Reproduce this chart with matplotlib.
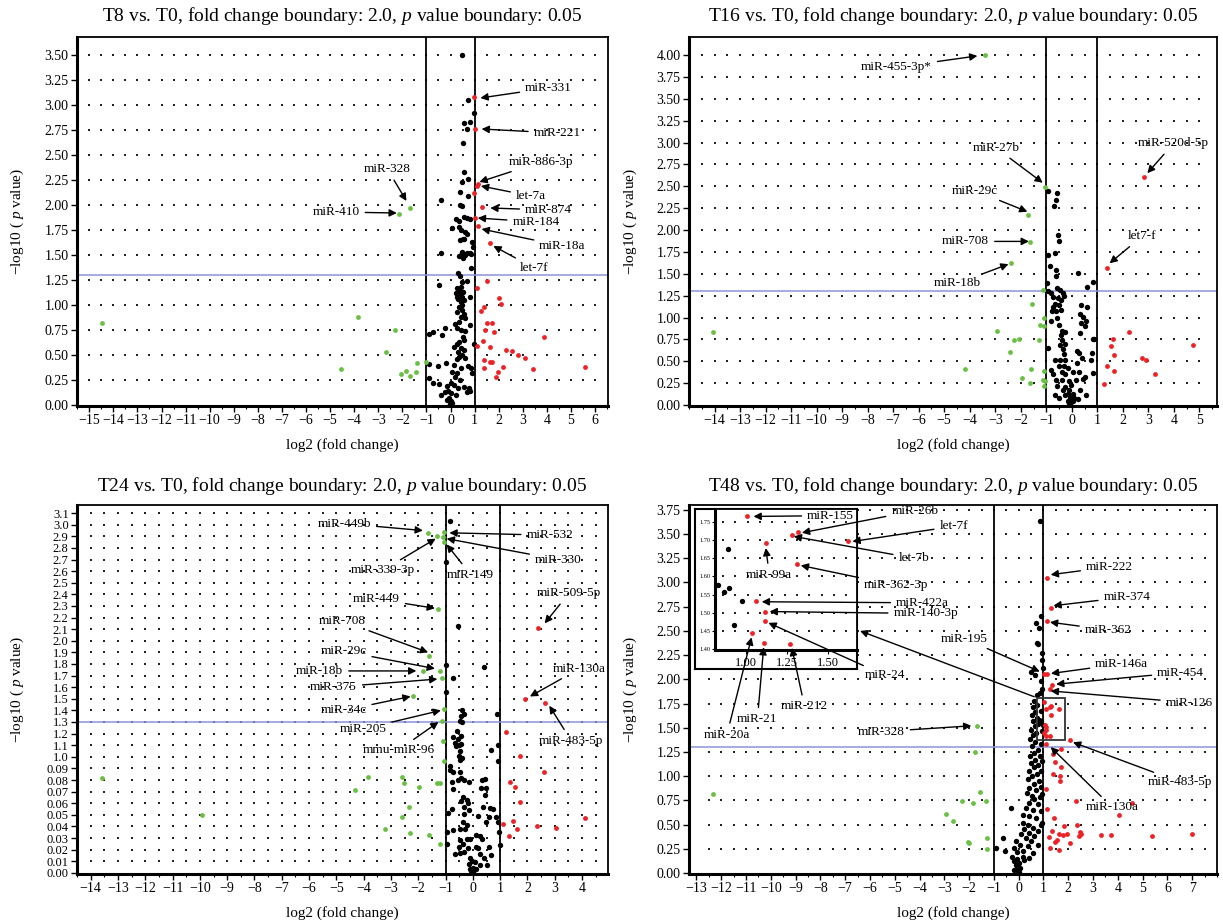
"""Four volcano plots of miRNA fold change against p value (T8, T16, T24, T48 vs. T0)."""

import numpy as np
import matplotlib

matplotlib.use("Agg")

import matplotlib.pyplot as plt
from matplotlib.patches import Rectangle
from matplotlib.ticker import MultipleLocator

plt.rcParams["font.family"] = ["Liberation Serif", "DejaVu Serif"]
plt.rcParams["mathtext.fontset"] = "custom"
plt.rcParams["mathtext.rm"] = "Liberation Serif"
plt.rcParams["mathtext.it"] = "Liberation Serif:italic"

W, H = 1223, 923
RED = "#ec2227"
GREEN = "#6abf45"
BLUE = "#8c93d6"

# ---- T8 vs. T0 --------------------------------------------------------------
t8_black = [
    (0.48, 3.50), (0.71, 3.05), (0.97, 2.92), (0.58, 2.82), (0.79, 2.83), (0.68, 2.76),
    (0.50, 2.62), (0.58, 2.33), (0.73, 2.26), (0.48, 2.23), (0.39, 2.13), (0.73, 2.09),
    (-0.40, 2.05), (0.40, 2.00), (0.48, 1.99), (0.57, 1.88), (0.68, 1.87), (0.24, 1.86),
    (0.36, 1.84), (0.79, 1.86), (0.08, 1.77), (0.37, 1.78), (0.44, 1.75), (0.60, 1.73),
    (0.68, 1.71), (0.52, 1.66), (0.39, 1.65), (0.57, 1.66), (0.90, 1.63), (0.95, 1.58),
    (-0.40, 1.52), (0.47, 1.53), (0.55, 1.50), (0.42, 1.50), (0.61, 1.50), (0.68, 1.52),
    (0.79, 1.52), (0.87, 1.51), (0.37, 1.49), (0.52, 1.47), (0.87, 1.37), (0.33, 1.32),
    (0.38, 1.29), (0.69, 1.24), (0.46, 1.23), (-0.48, 1.20), (0.42, 1.18), (0.28, 1.17),
    (0.36, 1.15), (0.50, 1.13), (0.21, 1.12), (0.39, 1.11), (0.25, 1.08), (0.49, 1.08),
    (0.32, 1.06), (0.58, 1.05), (0.42, 1.03), (0.80, 1.08), (0.46, 1.00), (0.35, 0.98),
    (0.49, 0.95), (0.28, 0.93), (0.55, 0.91), (0.42, 0.88), (0.61, 0.87), (0.36, 0.83),
    (0.20, 0.81), (0.25, 0.77), (0.83, 0.80), (-0.22, 0.77), (0.42, 0.75), (0.62, 0.74),
    (-0.73, 0.73), (-0.89, 0.71), (-0.35, 0.70), (0.50, 0.68), (0.55, 0.65), (0.35, 0.63),
    (0.25, 0.61), (0.14, 0.58), (0.97, 0.61), (0.42, 0.57), (0.58, 0.55), (0.31, 0.53),
    (0.49, 0.50), (0.35, 0.48), (0.25, 0.46), (0.62, 0.47), (-0.89, 0.41), (-0.18, 0.42),
    (-0.52, 0.39), (0.14, 0.40), (0.73, 0.39), (0.42, 0.37), (0.84, 0.37), (0.07, 0.33),
    (0.28, 0.32), (0.18, 0.28), (0.39, 0.25), (0.90, 0.32), (-0.89, 0.27), (-0.71, 0.22),
    (-0.46, 0.21), (-0.15, 0.19), (0.00, 0.22), (0.14, 0.20), (0.31, 0.17), (0.55, 0.18),
    (0.76, 0.17), (-0.09, 0.14), (0.03, 0.12), (0.21, 0.10), (-0.40, 0.10), (-0.24, 0.13),
    (0.69, 0.13), (0.83, 0.14), (-0.06, 0.07), (0.00, 0.04), (0.07, 0.02), (-0.04, 0.01),
    (-0.13, 0.05),
]
t8_up = [
    (0.99, 3.08), (1.03, 2.76), (1.13, 2.21), (1.10, 2.19), (0.99, 2.12), (1.32, 1.98),
    (1.00, 1.87), (1.15, 1.79), (1.66, 1.62), (1.53, 1.24), (1.11, 1.17), (2.03, 1.07),
    (2.10, 1.01), (1.40, 0.98), (1.26, 0.94), (1.53, 0.82), (1.71, 0.82), (1.42, 0.75),
    (1.81, 0.73), (3.90, 0.68), (1.12, 0.59), (1.37, 0.64), (1.64, 0.58), (2.32, 0.55),
    (2.57, 0.54), (2.81, 0.50), (3.08, 0.47), (1.38, 0.45), (1.38, 0.37), (1.64, 0.43),
    (1.74, 0.43), (2.20, 0.38), (1.97, 0.33), (1.89, 0.28), (3.44, 0.36), (5.57, 0.38),
]
t8_down = [
    (-14.47, 0.82), (-3.86, 0.88), (-2.31, 0.75), (-2.69, 0.53), (-4.53, 0.36),
    (-1.40, 0.42), (-1.86, 0.34), (-2.06, 0.31), (-1.68, 0.29), (-1.43, 0.33),
    (-1.02, 0.43), (-1.70, 1.97), (-2.12, 1.91),
]
# (name, arrow tip, label centre)
t8_labels = [
    ("miR-331", (1.24, 3.07), (4.07, 3.17)),
    ("miR-221", (1.29, 2.76), (4.43, 2.72)),
    ("miR-886-3p", (1.20, 2.23), (3.75, 2.43)),
    ("let-7a", (1.26, 2.19), (3.34, 2.09)),
    ("miR-874", (1.65, 1.97), (4.07, 1.95)),
    ("miR-184", (1.13, 1.87), (3.55, 1.83)),
    ("miR-18a", (1.29, 1.76), (4.65, 1.59)),
    ("let-7f", (1.78, 1.59), (3.47, 1.37)),
    ("miR-328", (-1.83, 2.04), (-2.62, 2.36)),
    ("miR-410", (-2.23, 1.92), (-4.75, 1.93)),
]

# ---- T16 vs. T0 -------------------------------------------------------------
t16_black = [
    (-0.92, 2.45), (-0.58, 2.42), (-0.61, 2.34), (-0.69, 2.27), (-0.54, 1.94), (-0.52, 1.88),
    (-0.66, 1.74), (-0.93, 1.71), (-0.86, 1.59), (-0.63, 1.54), (-0.63, 1.48), (-0.99, 1.40),
    (0.25, 1.51), (0.82, 1.41), (0.59, 1.35), (-0.92, 1.30), (-0.82, 1.28), (-0.58, 1.34),
    (-0.46, 1.32), (-0.35, 1.28), (-0.31, 1.25), (-0.75, 1.23), (-0.54, 1.22), (-0.43, 1.20),
    (-0.66, 1.15), (-0.50, 1.14), (-0.78, 1.07), (-0.62, 1.08), (-0.43, 1.09), (-0.73, 1.12),
    (0.37, 1.14), (0.60, 1.12), (0.33, 1.04), (0.45, 1.01), (0.37, 0.94), (0.57, 0.96),
    (0.53, 0.90), (-0.58, 1.00), (-0.80, 0.96), (-0.50, 0.91), (-0.40, 0.85), (-0.28, 0.83),
    (-0.44, 0.80), (0.33, 0.82), (0.82, 0.76), (0.88, 0.75), (-0.40, 0.74), (-0.28, 0.70),
    (-0.45, 0.69), (-0.92, 0.65), (-0.36, 0.64), (0.20, 0.62), (0.27, 0.59), (0.79, 0.59),
    (-0.32, 0.58), (-0.66, 0.52), (-0.46, 0.51), (-0.26, 0.51), (0.40, 0.54), (0.76, 0.51),
    (0.20, 0.48), (-0.32, 0.45), (-0.49, 0.45), (-0.15, 0.42), (-0.83, 0.40), (-0.40, 0.38),
    (0.03, 0.38), (0.27, 0.38), (0.82, 0.37), (-0.75, 0.35), (-0.26, 0.35), (0.53, 0.32),
    (0.45, 0.30), (-0.62, 0.29), (-0.40, 0.29), (0.15, 0.29), (-0.11, 0.27), (-0.57, 0.22),
    (-0.02, 0.23), (0.32, 0.17), (0.57, 0.11), (-0.10, 0.17), (-0.16, 0.13), (0.03, 0.13),
    (-0.28, 0.11), (-0.65, 0.12), (-0.07, 0.08), (0.10, 0.08), (0.23, 0.07), (-0.15, 0.05),
    (-0.02, 0.03), (0.06, 0.05), (-0.10, 0.02), (-0.49, 0.08), (-0.33, 0.17), (-0.26, 0.21),
]
t16_up = [
    (2.82, 2.61), (1.39, 1.57), (2.25, 0.84), (4.73, 0.69), (1.61, 0.76), (1.55, 0.68),
    (1.67, 0.57), (2.76, 0.54), (2.92, 0.52), (1.39, 0.45), (1.64, 0.39), (3.26, 0.36),
    (1.27, 0.24),
]
t16_down = [
    (-3.40, 4.00), (-1.05, 2.49), (-1.70, 2.17), (-1.62, 1.86), (-2.39, 1.62), (-14.06, 0.83),
    (-4.18, 0.41), (-2.94, 0.85), (-2.25, 0.74), (-2.07, 0.75), (-1.27, 0.74), (-2.41, 0.61),
    (-1.55, 1.15), (-1.13, 1.31), (-1.07, 1.00), (-1.26, 0.91), (-1.07, 0.90), (-1.59, 0.41),
    (-1.08, 0.39), (-1.95, 0.31), (-1.63, 0.25), (-1.14, 0.29), (-1.05, 0.28), (-1.10, 0.22),
]
t16_labels = [
    ("miR-455-3p*", (-3.70, 3.99), (-6.87, 3.86)),
    ("miR-27b", (-1.14, 2.54), (-2.97, 2.94)),
    ("miR-29c", (-1.74, 2.21), (-3.79, 2.45)),
    ("miR-708", (-1.68, 1.87), (-4.16, 1.87)),
    ("miR-18b", (-2.48, 1.61), (-4.50, 1.39)),
    ("miR-520d-5p", (2.96, 2.65), (3.99, 2.99)),
    ("let7-f", (1.48, 1.62), (2.76, 1.93)),
]

# ---- T24 vs. T0 -------------------------------------------------------------
t24_black = [
    (-0.82, 3.03), (-0.99, 2.68), (-0.53, 2.13), (-0.97, 1.79), (0.42, 1.77), (-0.72, 1.68),
    (-0.99, 1.56), (-0.38, 1.40), (-0.34, 1.37), (-0.44, 1.35), (-0.48, 1.31), (-0.39, 1.30),
    (0.89, 1.37), (-0.57, 1.22), (-0.71, 1.17), (-0.54, 1.15), (-0.45, 1.18), (-0.65, 1.12),
    (-0.51, 1.10), (-0.42, 1.11), (-0.60, 1.09), (0.68, 1.06), (0.92, 1.10), (-0.48, 1.05),
    (-0.50, 1.01), (-0.40, 0.99), (-0.48, 0.97), (0.92, 0.96), (-0.82, 0.92), (-0.74, 0.87),
    (-0.84, 0.89), (-0.48, 0.87), (-0.42, 0.82), (-0.54, 0.80), (-0.32, 0.80), (-0.13, 0.78),
    (0.44, 0.81), (0.35, 0.80), (-0.78, 0.78), (-0.74, 0.72), (0.48, 0.73), (0.29, 0.73),
    (0.44, 0.67), (-0.35, 0.65), (-0.23, 0.63), (-0.17, 0.60), (-0.42, 0.62), (-0.78, 0.55),
    (-0.33, 0.57), (0.38, 0.57), (0.62, 0.56), (0.74, 0.55), (-0.90, 0.52), (-0.13, 0.54),
    (-0.32, 0.51), (0.20, 0.49), (0.59, 0.48), (0.84, 0.48), (0.48, 0.44), (0.93, 0.44),
    (-0.35, 0.44), (-0.21, 0.41), (-0.48, 0.38), (-0.29, 0.38), (-0.96, 0.35), (-0.74, 0.37),
    (0.13, 0.33), (0.26, 0.32), (0.94, 0.35), (-0.23, 0.29), (-0.09, 0.29), (-0.48, 0.28),
    (-0.35, 0.25), (0.32, 0.29), (-0.96, 0.25), (0.99, 0.24), (0.60, 0.22), (0.10, 0.22),
    (0.20, 0.21), (-0.50, 0.22), (-0.17, 0.21), (-0.66, 0.16), (-0.48, 0.17), (-0.33, 0.18),
    (0.26, 0.16), (0.66, 0.15), (-0.11, 0.13), (0.40, 0.13), (-0.04, 0.10), (0.07, 0.09),
    (-0.13, 0.08), (0.26, 0.07), (0.50, 0.07), (0.01, 0.04), (0.13, 0.03), (-0.09, 0.03),
    (-0.01, 0.01), (-0.05, 0.02),
]
t24_up = [
    (2.39, 2.11), (1.91, 1.50), (2.64, 1.46), (1.21, 1.21), (1.74, 1.01), (2.59, 0.87),
    (1.36, 0.78), (1.53, 0.74), (1.74, 0.61), (4.09, 0.47), (1.48, 0.45), (1.09, 0.42),
    (2.36, 0.40), (3.04, 0.39), (1.63, 0.38), (1.31, 0.32),
]
t24_down = [
    (-1.64, 2.93), (-1.30, 2.90), (-1.10, 2.89), (-1.06, 2.94), (-1.05, 2.85), (-1.27, 2.27),
    (-1.59, 1.87), (-1.22, 1.74), (-1.83, 1.74), (-1.13, 1.68), (-2.21, 1.52), (-1.05, 1.41),
    (-1.14, 1.31), (-1.10, 1.14), (-1.06, 0.96), (-13.58, 0.82), (-3.84, 0.83), (-2.61, 0.83),
    (-2.53, 0.77), (-4.31, 0.71), (-1.96, 0.74), (-1.33, 0.77), (-1.22, 0.77), (-9.91, 0.50),
    (-2.34, 0.57), (-2.59, 0.48), (-3.23, 0.38), (-2.30, 0.34), (-1.62, 0.33), (-1.22, 0.25),
]
t24_labels = [
    ("miR-449b", (-1.83, 2.95), (-4.71, 3.01)),
    ("miR-532", (-0.86, 2.93), (2.82, 2.91)),
    ("miR-330", (-0.96, 2.88), (3.13, 2.70)),
    ("miR-339-3p", (-1.36, 2.88), (-3.28, 2.61)),
    ("miR-149", (-0.96, 2.83), (-0.08, 2.57)),
    ("miR-509-5p", (2.63, 2.15), (3.52, 2.41)),
    ("miR-449", (-1.39, 2.28), (-3.53, 2.36)),
    ("miR-708", (-1.64, 1.90), (-4.78, 2.17)),
    ("miR-29c", (-1.39, 1.76), (-4.74, 1.91)),
    ("miR-18b", (-2.07, 1.74), (-5.61, 1.74)),
    ("miR-375", (-1.30, 1.67), (-5.10, 1.60)),
    ("miR-130a", (2.09, 1.52), (3.91, 1.76)),
    ("miR-34c", (-2.28, 1.52), (-4.74, 1.40)),
    ("miR-205", (-1.17, 1.40), (-4.02, 1.24)),
    ("miR-483-5p", (2.80, 1.44), (3.60, 1.14)),
    ("mmu-miR-96", (-1.26, 1.30), (-2.71, 1.06)),
]
t24_yticks = [i / 10 for i in range(32)]
t24_yticklabels = ["0.00"] + [f"0.0{i}" for i in range(1, 10)] + [f"{i / 10:.1f}" for i in range(10, 32)]

# ---- T48 vs. T0 -------------------------------------------------------------
t48_black = [
    (0.84, 3.63), (0.92, 2.65), (0.70, 2.58), (0.81, 2.53), (0.74, 2.38), (0.79, 2.36),
    (0.93, 2.27), (0.93, 2.20), (0.97, 2.12), (0.50, 2.08), (0.64, 2.04), (0.92, 1.98),
    (0.96, 1.90), (0.84, 1.86), (0.73, 1.84), (0.62, 1.78), (0.74, 1.74), (0.57, 1.71),
    (0.65, 1.66), (0.52, 1.63), (0.72, 1.60), (0.56, 1.57), (0.79, 1.54), (0.65, 1.52),
    (0.49, 1.48), (0.69, 1.45), (0.56, 1.43), (0.45, 1.38), (0.65, 1.35), (0.89, 1.33),
    (0.52, 1.31), (0.76, 1.27), (0.60, 1.24), (0.44, 1.21), (0.87, 1.21), (0.65, 1.17),
    (0.49, 1.14), (0.79, 1.12), (0.60, 1.09), (0.42, 1.05), (0.89, 1.05), (0.72, 1.02),
    (0.52, 1.00), (0.36, 0.97), (0.83, 0.95), (0.60, 0.92), (0.42, 0.88), (0.89, 0.89),
    (0.70, 0.86), (0.33, 0.83), (0.52, 0.80), (0.87, 0.78), (-0.32, 0.67), (0.62, 0.76),
    (0.40, 0.72), (0.76, 0.71), (0.29, 0.67), (0.56, 0.65), (0.89, 0.64), (0.19, 0.60),
    (0.42, 0.59), (0.69, 0.57), (0.16, 0.52), (0.36, 0.50), (0.56, 0.47), (0.89, 0.50),
    (0.22, 0.45), (0.42, 0.41), (0.79, 0.43), (-0.65, 0.36), (0.09, 0.40), (0.29, 0.36),
    (0.62, 0.38), (-0.11, 0.33), (0.49, 0.33), (-0.92, 0.26), (-0.56, 0.23), (0.05, 0.29),
    (0.36, 0.28), (0.76, 0.29), (-0.18, 0.26), (-0.05, 0.22), (0.19, 0.23), (0.56, 0.21),
    (-0.25, 0.17), (-0.07, 0.15), (0.16, 0.17), (0.42, 0.16), (-0.18, 0.12), (0.02, 0.10),
    (0.22, 0.13), (-0.11, 0.08), (0.06, 0.05), (-0.05, 0.03), (0.02, 0.01), (-0.18, 0.03),
    (0.89, 1.676), (0.826, 1.575), (0.864, 1.557), (0.895, 1.567), (0.976, 1.531),
    (0.929, 1.465), (0.95, 0.52), (0.93, 0.82), (0.95, 1.16),
]
t48_up = [
    (1.14, 3.05), (1.29, 2.74), (1.14, 2.60), (1.01, 2.05), (1.14, 2.05), (1.35, 1.94),
    (1.28, 1.90), (2.05, 1.37), (1.10, 1.33), (1.72, 1.28), (1.37, 1.23), (1.47, 1.15),
    (1.69, 1.09), (1.40, 1.02), (1.68, 1.00), (1.67, 0.95), (1.09, 0.87), (2.32, 0.74),
    (4.59, 0.72), (1.15, 0.66), (4.03, 0.60), (1.41, 0.57), (1.84, 0.49), (2.35, 0.50),
    (1.35, 0.43), (1.61, 0.40), (1.80, 0.39), (1.93, 0.40), (2.49, 0.42), (2.53, 0.40),
    (2.43, 0.38), (3.31, 0.39), (3.71, 0.39), (5.39, 0.38), (7.00, 0.40), (1.21, 0.37),
    (1.53, 0.34), (1.48, 0.32), (2.07, 0.31), (1.25, 0.26), (1.64, 0.24),
    (1.005, 1.765), (1.317, 1.721), (1.281, 1.714), (1.624, 1.696), (1.119, 1.692),
    (1.310, 1.635), (1.060, 1.531), (1.114, 1.503), (1.114, 1.477), (1.038, 1.443),
    (1.112, 1.417), (1.267, 1.413),
]
t48_down = [
    (-1.70, 1.52), (-1.77, 1.25), (-12.32, 0.82), (-1.58, 0.84), (-2.29, 0.74), (-1.86, 0.72),
    (-1.31, 0.74), (-2.92, 0.61), (-2.67, 0.54), (-2.05, 0.32), (-1.99, 0.31), (-1.29, 0.36),
    (-1.26, 0.25),
]
t48_labels = [
    ("miR-222", (1.29, 3.08), (3.66, 3.16)),
    ("miR-374", (1.40, 2.76), (4.37, 2.85)),
    ("miR-362", (1.26, 2.59), (3.61, 2.51)),
    ("miR-195", (0.85, 2.08), (-2.18, 2.42)),
    ("miR-146a", (1.30, 2.06), (4.16, 2.16)),
    ("miR-454", (1.51, 1.95), (6.53, 2.07)),
    ("miR-126", (1.29, 1.88), (6.88, 1.76)),
    ("miR-483-5p", (2.19, 1.35), (6.50, 0.94)),
    ("miR-130a", (1.29, 1.30), (3.77, 0.68)),
    ("miR-328", (-1.91, 1.52), (-5.54, 1.46)),
]
# inset labels: arrow tip in inset data, label centre in main-panel data
t48_inset_labels = [
    ("miR-155", (1.045, 1.765), (-7.59, 3.69)),
    ("miR-26b", (1.34, 1.72), (-4.19, 3.74)),
    ("let-7f", (1.648, 1.696), (-2.62, 3.58)),
    ("let-7b", (1.29, 1.71), (-4.23, 3.25)),
    ("miR-99a", (1.12, 1.678), (-10.06, 3.08)),
    ("miR-362-3p", (1.333, 1.630), (-4.94, 2.97)),
    ("miR-422a", (1.095, 1.530), (-3.88, 2.79)),
    ("miR-140-3p", (1.143, 1.503), (-3.75, 2.68)),
    ("miR-24", (1.136, 1.472), (-5.38, 2.04)),
    ("miR-20a", (1.033, 1.432), (-11.77, 1.43)),
    ("miR-21", (1.107, 1.405), (-10.54, 1.59)),
    ("miR-212", (1.279, 1.403), (-8.64, 1.72)),
]
zoom_box = (0.73, 1.375, 1.85, 1.81)  # x0, y0, x1, y1 of the zoomed region


def rect(left, top, right, bottom):
    return [left / W, 1 - bottom / H, (right - left) / W, (bottom - top) / H]


def dot_grid(ax, xs, ys):
    gx, gy = np.meshgrid(xs, ys)
    ax.scatter(gx.ravel(), gy.ravel(), s=0.7, c="#222222", marker="s", linewidths=0, zorder=0.5)


def setup(ax, xlim, ylim, xticks, yticks, yticklabels, title, title_y, ylabelsize=10):
    ax.set_xlim(xlim)
    ax.set_ylim(ylim)
    ax.set_xticks(xticks)
    ax.set_yticks(yticks, yticklabels)
    ax.xaxis.set_minor_locator(MultipleLocator(0.5))
    ax.tick_params(which="major", direction="out", length=4, width=1, labelsize=10, pad=2)
    ax.tick_params(axis="y", labelsize=ylabelsize)
    ax.tick_params(which="minor", direction="out", length=2, width=0.8)
    for spine in ax.spines.values():
        spine.set_linewidth(1.3)
    ax.spines["left"].set_linewidth(2.2)
    ax.spines["bottom"].set_linewidth(2.2)

    xs = np.arange(np.ceil(xlim[0] * 2) / 2 + 0.5, xlim[1] - 0.2, 0.5)
    dot_grid(ax, xs, [v for v in yticks if v > 0.001])
    ax.axvline(-1, color="k", lw=1.3, zorder=1)
    ax.axvline(1, color="k", lw=1.3, zorder=1)
    ax.axhline(-np.log10(0.05), color=BLUE, lw=1.1, zorder=1)

    ax.set_xlabel("log2 (fold change)", fontsize=11)
    ax.set_ylabel("−log10 ( $\\mathit{p}$ value)", fontsize=11)
    ax.xaxis.set_label_coords(0.5, -0.105)
    ax.xaxis.label.set_va("center")
    ax.yaxis.set_label_coords(-0.112, 0.5)
    ax.yaxis.label.set_va("center")
    ax.text(0.5, title_y, title, transform=ax.transAxes, ha="center", va="center", fontsize=14)


def points(ax, black, up, down, black_size=15, colour_size=12):
    bx, by = np.array(black).T
    ux, uy = np.array(up).T
    dx, dy = np.array(down).T
    ax.scatter(bx, by, s=black_size, c="k", linewidths=0, zorder=3)
    ax.scatter(dx, dy, s=colour_size, c=GREEN, linewidths=0, zorder=3)
    ax.scatter(ux, uy, s=colour_size, c=RED, linewidths=0, zorder=3)


ARROW = dict(arrowstyle="-|>", color="k", lw=1.0, mutation_scale=11, shrinkA=2, shrinkB=0)


def labels(ax, items, **kw):
    for name, tip, pos in items:
        ax.annotate(name, xy=tip, xytext=pos, ha="center", va="center", fontsize=9.5,
                    arrowprops=ARROW, zorder=5, **kw)


def title_for(t):
    return f"{t} vs. T0, fold change boundary: 2.0, $\\mathit{{p}}$ value boundary: 0.05"


fig = plt.figure(figsize=(W / 100, H / 100), dpi=100)

ax1 = fig.add_axes(rect(77, 37, 608, 406))
setup(ax1, (-15.51, 6.54), (-0.01, 3.68), range(-15, 7), np.arange(0, 3.51, 0.25),
      [f"{v:.2f}" for v in np.arange(0, 3.51, 0.25)], title_for("T8"), 1.057)
points(ax1, t8_black, t8_up, t8_down)
labels(ax1, t8_labels)

ax2 = fig.add_axes(rect(689, 37, 1217, 406))
setup(ax2, (-15.0, 5.69), (-0.011, 4.206), range(-14, 6), np.arange(0, 4.01, 0.25),
      [f"{v:.2f}" for v in np.arange(0, 4.01, 0.25)], title_for("T16"), 1.057)
points(ax2, t16_black, t16_up, t16_down)
labels(ax2, t16_labels)

ax3 = fig.add_axes(rect(77, 505, 608, 874))
setup(ax3, (-14.5, 4.95), (-0.01, 3.17), range(-14, 5), t24_yticks, t24_yticklabels,
      title_for("T24"), 1.051, ylabelsize=9)
points(ax3, t24_black, t24_up, t24_down)
labels(ax3, t24_labels)

ax4 = fig.add_axes(rect(689, 505, 1217, 874))
setup(ax4, (-13.3, 8.0), (-0.01, 3.80), range(-13, 8), np.arange(0, 3.76, 0.25),
      [f"{v:.2f}" for v in np.arange(0, 3.76, 0.25)], title_for("T48"), 1.051)
points(ax4, t48_black, t48_up, t48_down)
labels(ax4, t48_labels)
x0, y0, x1, y1 = zoom_box
ax4.add_patch(Rectangle((x0, y0), x1 - x0, y1 - y0, fill=False, ec="#333333", lw=1.3, zorder=4))
ax4.annotate("", xy=(-6.40, 2.50), xytext=(x0, y1), arrowprops=ARROW, zorder=5)

# inset frame and zoomed axes
frame = fig.add_axes(rect(694.8, 508.8, 857, 668.6))
frame.set_xticks([])
frame.set_yticks([])
for spine in frame.spines.values():
    spine.set_linewidth(1.5)
frame.set_zorder(4)

ins = fig.add_axes(rect(714.8, 508.8, 857, 649.7))
ins.set_zorder(5)
ins.set_xlim(0.809, 1.676)
ins.set_ylim(1.398, 1.786)
ins.set_xticks([1.0, 1.25, 1.5], ["1.00", "1.25", "1.50"])
ins_yt = np.arange(1.40, 1.751, 0.05)
ins.set_yticks(ins_yt, [f"{v:.2f}" for v in ins_yt])
ins.tick_params(axis="x", labelsize=9, length=3, pad=2)
ins.tick_params(axis="y", labelsize=4.5, length=2, pad=1)
for spine in ins.spines.values():
    spine.set_linewidth(1.3)
ins.spines["left"].set_linewidth(2.2)
ins.spines["bottom"].set_linewidth(2.2)
dot_grid(ins, np.arange(0.86, 1.66, 0.075), ins_yt[1:])
points(ins, t48_black, t48_up, t48_down)
for name, tip, pos in t48_inset_labels:
    ins.annotate(name, xy=tip, xytext=pos, textcoords=ax4.transData, ha="center",
                 va="center", fontsize=9.5, arrowprops=ARROW, zorder=6)

fig.savefig("out.png", dpi=100, facecolor="white")
